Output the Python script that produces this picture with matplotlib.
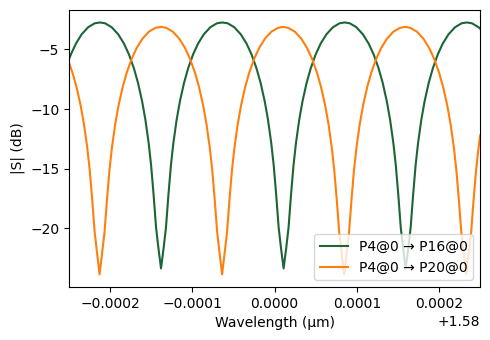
import numpy as np
import matplotlib
matplotlib.use("Agg")
import matplotlib.pyplot as plt

# wavelength offsets from 1.58 um, in pm (1e-6 um), and |S| in dB
wl_p16 = [-250, -247.8, -241.8, -234.8, -226.8, -218.8, -212.5,
          -206.2, -198.2, -190.2, -183.2, -177.2, -171.2, -166.2, -161.2, -157.2, -153.2, -150.2, -147.2, -144.2, -141.2, -138.2,
          -135.2, -132.2, -129.2, -126.2, -123.2, -119.2, -115.2, -110.2, -105.2, -99.2, -93.2, -86.2, -78.2, -70.2, -63.65,
          -57.1, -49.1, -41.1, -34.1, -28.1, -22.1, -17.1, -12.1, -8.1, -4.1, -1.1, 1.9, 4.9, 7.9, 10.9,
          13.9, 16.9, 19.9, 22.9, 25.9, 29.9, 33.9, 38.9, 43.9, 49.9, 55.9, 62.9, 70.9, 78.9, 85.15,
          91.4, 99.4, 107.4, 114.4, 120.4, 126.4, 131.4, 136.4, 140.4, 144.4, 147.4, 150.4, 153.4, 156.4, 159.4,
          162.4, 165.4, 168.4, 171.4, 174.4, 178.4, 182.4, 187.4, 192.4, 198.4, 204.4, 211.4, 219.4, 227.4, 233.7,
          240, 248, 250]
s_p16 = [-5.81, -5.42, -4.52, -3.74, -3.14, -2.81, -2.74,
         -2.81, -3.14, -3.74, -4.52, -5.42, -6.58, -7.80, -9.34, -10.89, -12.86, -14.74, -17.20, -19.94, -21.74, -23.35,
         -21.74, -19.94, -17.20, -14.74, -12.86, -10.89, -9.34, -7.80, -6.58, -5.42, -4.52, -3.74, -3.14, -2.81, -2.74,
         -2.81, -3.14, -3.74, -4.52, -5.42, -6.58, -7.80, -9.34, -10.89, -12.86, -14.74, -17.20, -19.94, -21.74, -23.35,
         -21.74, -19.94, -17.20, -14.74, -12.86, -10.89, -9.34, -7.80, -6.58, -5.42, -4.52, -3.74, -3.14, -2.81, -2.74,
         -2.81, -3.14, -3.74, -4.52, -5.42, -6.58, -7.80, -9.34, -10.89, -12.86, -14.74, -17.20, -19.94, -21.74, -23.35,
         -21.74, -19.94, -17.20, -14.74, -12.86, -10.89, -9.34, -7.80, -6.58, -5.42, -4.52, -3.74, -3.14, -2.81, -2.74,
         -2.81, -3.14, -3.27]

wl_p20 = [-250, -245.9, -240.9, -235.9, -231.9, -227.9, -224.9, -221.9, -218.9, -215.9, -212.9,
          -209.9, -206.9, -203.9, -200.9, -197.9, -193.9, -189.9, -184.9, -179.9, -173.9, -167.9, -160.9, -152.9, -144.9, -138.4,
          -131.9, -123.9, -115.9, -108.9, -102.9, -96.9, -91.9, -86.9, -82.9, -78.9, -75.9, -72.9, -69.9, -66.9, -63.9,
          -60.9, -57.9, -54.9, -51.9, -48.9, -44.9, -40.9, -35.9, -30.9, -24.9, -18.9, -11.9, -3.9, 4.1, 10.3,
          16.5, 24.5, 32.5, 39.5, 45.5, 51.5, 56.5, 61.5, 65.5, 69.5, 72.5, 75.5, 78.5, 81.5, 84.5,
          87.5, 90.5, 93.5, 96.5, 99.5, 103.5, 107.5, 112.5, 117.5, 123.5, 129.5, 136.5, 144.5, 152.5, 158.75,
          165, 173, 181, 188, 194, 200, 205, 210, 214, 218, 221, 224, 227, 230, 233,
          236, 239, 242, 245, 248, 250]
s_p20 = [-6.13, -6.95, -8.17, -9.71, -11.26, -13.23, -15.11, -17.57, -20.31, -22.11, -23.85,
         -22.11, -20.31, -17.57, -15.11, -13.23, -11.26, -9.71, -8.17, -6.95, -5.79, -4.89, -4.11, -3.51, -3.19, -3.11,
         -3.19, -3.51, -4.11, -4.89, -5.79, -6.95, -8.17, -9.71, -11.26, -13.23, -15.11, -17.57, -20.31, -22.11, -23.85,
         -22.11, -20.31, -17.57, -15.11, -13.23, -11.26, -9.71, -8.17, -6.95, -5.79, -4.89, -4.11, -3.51, -3.19, -3.11,
         -3.19, -3.51, -4.11, -4.89, -5.79, -6.95, -8.17, -9.71, -11.26, -13.23, -15.11, -17.57, -20.31, -22.11, -23.85,
         -22.11, -20.31, -17.57, -15.11, -13.23, -11.26, -9.71, -8.17, -6.95, -5.79, -4.89, -4.11, -3.51, -3.19, -3.11,
         -3.19, -3.51, -4.11, -4.89, -5.79, -6.95, -8.17, -9.71, -11.26, -13.23, -15.11, -17.57, -20.31, -22.11, -23.85,
         -22.11, -20.31, -17.57, -15.11, -13.23, -12.20]

labels = ["P4@0 \u2192 P16@0", "P4@0 \u2192 P20@0"]
colors = ["#1c6535", "#ff7f0e"]


def main():
    fig, ax = plt.subplots(figsize=(4.9, 3.4), dpi=100)
    fig.subplots_adjust(left=0.141, right=0.98, top=0.971, bottom=0.156)

    for wl, s, lab, c in [(wl_p16, s_p16, labels[0], colors[0]),
                          (wl_p20, s_p20, labels[1], colors[1])]:
        x = 1.58 + np.array(wl) * 1e-6
        ax.plot(x, s, color=c, lw=1.5, label=lab)

    ax.margins(x=0)
    ax.set_xlabel("Wavelength (\u00b5m)")
    ax.set_ylabel("|S| (dB)")
    ax.legend(loc="lower right")
    fig.savefig("out.png")


if __name__ == '__main__':
    main()
